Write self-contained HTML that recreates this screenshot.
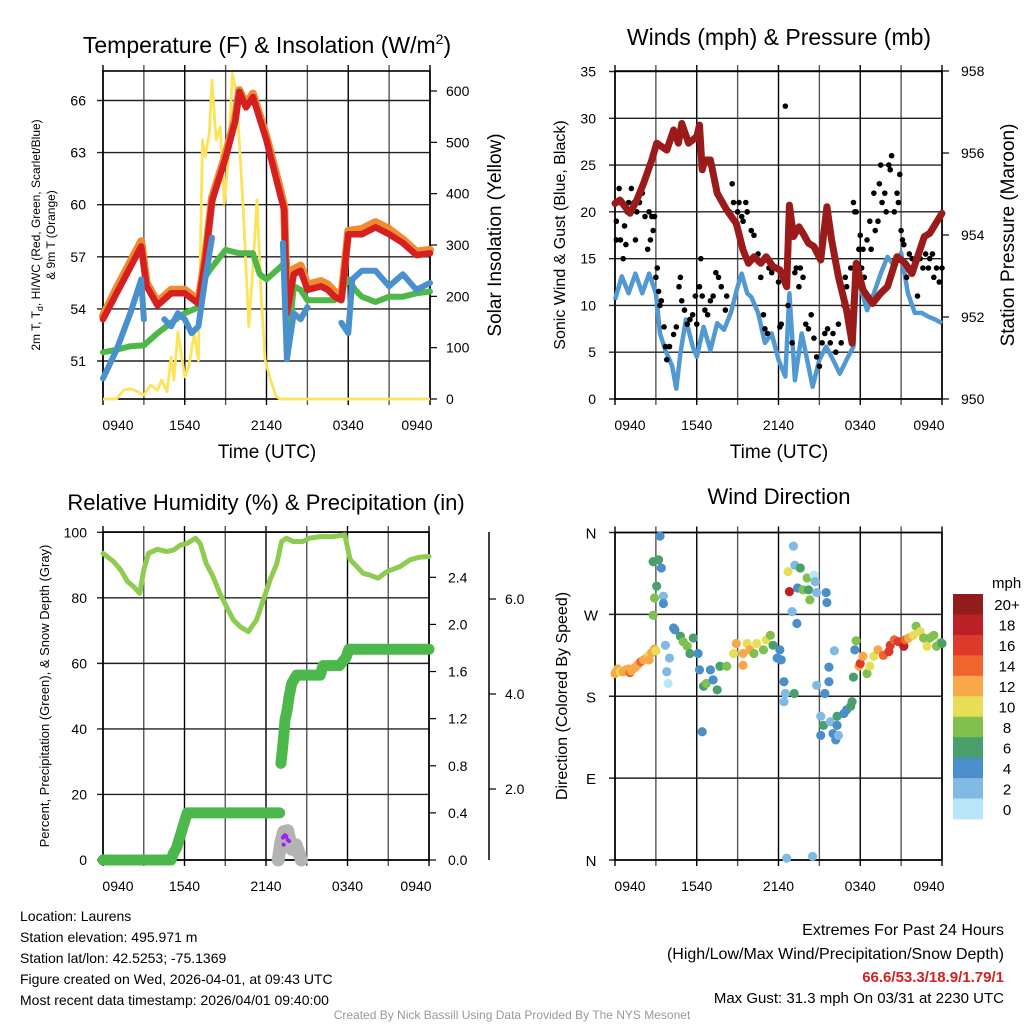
<!DOCTYPE html>
<html><head><meta charset="utf-8">
<style>
body{margin:0;background:#fff;}
svg{display:block;font-family:"Liberation Sans",sans-serif;}
</style></head>
<body>
<svg id="chart" width="1024" height="1024" viewBox="0 0 1024 1024"></svg>
<script>
// ---------- DATA ----------
const tTemp=[0,1,2,2.8,3.2,4,5,6,7,7.5,8,9,9.7,10,10.5,11,12,13,13.3,13.5,14,14.5,15,16,16.5,17,17.5,18,19,20,21,22,23,24];
const tempRed=[53.4,54.9,56.4,57.6,55.3,54.2,54.9,54.9,54.3,56.8,60.2,62.7,64.8,66.5,65.6,66.2,63.7,60.6,59.7,53.75,56.0,56.2,55.1,55.3,55.1,54.7,54.5,58.3,58.3,58.7,58.3,57.8,57.1,57.2];
const temp9m=[53.6,55.2,56.7,57.9,55.5,54.4,55.1,55.1,54.5,57.0,60.4,62.9,65.0,66.6,65.8,66.4,63.9,60.9,59.9,53.9,56.3,56.5,55.4,55.6,55.4,55.0,54.7,58.5,58.6,59.0,58.6,58.0,57.3,57.4];
const tDew=[0,1,2,3,4,5,6,7,7.5,8,9,10,11,11.5,12,13,13.5,13.7,14,14.5,15,16,17,18,18.5,19,20,21,22,23,24];
const dewGreen=[51.5,51.65,51.85,51.9,52.6,53.2,53.75,54.1,55.85,56.4,57.4,57.2,57.2,56.0,55.7,56.4,56.8,53.0,55.3,55.1,54.5,54.5,54.5,55.7,55.1,54.7,54.4,54.7,54.7,54.9,55.0];
const tChill=[0,1,2,2.8,3,3.5,4.5,5,5.5,6,6.5,7,7.5,8,8.1,13.2,13.5,14,14.5,15,15.3,17.5,18,18.3,19,20,21,22,23,24];
const chillBlue=[50.0,51.65,53.75,55.7,53.4,null,53.4,53.0,53.75,53.4,52.6,53.0,55.7,58.1,null,57.8,51.1,53.75,53.4,54.1,null,53.2,52.6,55.7,56.2,56.2,55.3,56.0,55.1,55.5];
const tSolar=[0,1,1.5,2,2.5,3,3.5,4,4.3,4.7,5,5.2,5.5,6,6.3,6.7,7,7.3,7.5,7.8,8,8.3,8.6,8.9,9.2,9.5,9.8,10.3,10.7,11,11.3,11.6,11.9,12.3,12.7,13,24];
const solar=[0,0,17,20,15,8,27,17,37,14,82,37,131,43,63,128,75,505,472,518,621,505,530,381,466,634,595,368,141,258,388,206,76,37,5,0,0];
const tWind=[0,0.5,1,1.5,2,2.5,3,3.3,3.7,4.2,4.5,4.8,5.2,5.7,6,6.5,7,7.5,8,8.5,9,9.3,9.7,10,10.5,11,11.5,12,12.5,12.8,13.2,13.7,14,14.5,15,15.5,16,16.5,17,17.5,17.8,18,18.5,19,19.5,20,20.5,21,21.5,22,22.5,23,23.5,24];
const windBlue=[10.6,13.1,11.3,13.4,11.3,13.4,11.3,7.0,5.2,3.5,1.1,4.9,8.5,5.6,4.5,7.7,5.2,8.1,7.4,9.2,12.0,13.4,11.3,10.9,9.2,6.0,7.0,4.2,2.4,11.3,2.0,7.0,4.9,1.3,4.2,5.6,4.2,2.7,4.2,5.6,14.2,12.0,9.5,11.3,13.4,15.2,14.2,15.6,11.3,9.2,9.2,8.8,8.5,8.1];
const tPres=[0,0.37,1.1,1.6,2.1,2.7,3.06,3.8,4.3,4.65,4.9,5.4,6.0,6.2,6.4,6.6,7.0,7.5,8.2,8.9,9.4,9.8,10.2,10.7,11.1,11.6,12.1,12.6,12.8,13.1,13.5,13.8,14.2,14.6,15.1,15.55,15.9,16.4,17.0,17.4,17.7,18.2,18.9,19.5,20.0,20.7,21.3,21.8,22.7,23.1,24];
const pressure=[954.77,954.85,954.53,954.85,955.26,955.83,956.24,956.07,956.56,956.24,956.72,956.24,956.4,956.68,955.59,955.83,955.83,955.02,954.61,954.28,953.63,953.31,953.47,953.31,953.47,953.23,953.15,952.74,954.73,953.96,954.20,954.04,953.80,953.72,953.39,954.69,953.88,952.98,952.17,951.36,953.31,952.66,952.33,952.58,952.74,953.47,953.31,953.06,953.96,954.04,954.53];
const tGust=[0.1,0.1,0.2,0.3,0.4,0.6,0.7,0.8,0.9,1.0,1.2,1.4,1.5,1.6,1.8,2.0,2.1,2.2,2.4,2.5,2.6,2.7,2.8,2.9,3.0,3.1,3.2,3.3,3.4,3.6,3.7,3.8,4.0,4.3,4.5,4.7,4.8,4.9,5.1,5.3,5.5,5.7,5.9,6.0,6.2,6.3,6.4,6.6,6.8,7.0,7.2,7.4,7.6,7.8,8.1,8.2,8.4,8.6,8.7,8.8,9.0,9.1,9.3,9.4,9.6,9.7,10.0,10.2,10.4,10.5,10.7,10.9,11.0,11.2,11.3,11.5,11.7,11.9,12.0,12.1,12.2,12.5,12.7,13.0,13.2,13.3,13.5,13.6,13.8,14.0,14.2,14.4,14.6,14.8,15.0,15.2,15.4,15.6,15.8,16.0,16.2,16.4,16.6,16.8,16.9,17.0,17.3,17.5,17.6,17.7,17.9,18.0,18.1,18.2,18.3,18.5,18.7,18.8,19.0,19.1,19.3,19.4,19.5,19.6,19.8,19.9,20.1,20.2,20.3,20.5,20.7,20.8,20.9,21.0,21.1,21.2,21.4,21.6,21.8,22.0,22.2,22.4,22.6,22.8,23.0,23.1,23.3,23.4,23.6,23.8,24.0];
const gust=[17,19,21,22.5,17,15,18.5,16.5,20,21,22.5,21,17,20,21,22,23,19.5,16,20,17,19.5,18,19.5,13,14,11.5,10,10.5,7.7,5.6,4.2,5.6,6.9,7.7,12,13,10.5,9.5,8,8.5,9,11,8,12,15,11,9.5,9,10.5,11,13.5,13,12,9.5,11,20,23,21,19,20,21,19.5,19,21,20,18,17.5,15,15.5,13,9,7.5,7,14,13.5,14,14,12.5,7.7,8,31.3,10,6,13.5,14,12,14,13,8,7.5,9,6.5,4.5,3.5,6,7,7.5,6,7,5,8,6,10,13,12,14,21,20,20,16,17.5,14,16,13,17,19,16,22,18,19,23,25,21,22,20,25,24.5,26,20,22,21,24,18,17,16.5,13,15.5,15,14.5,11,15,14,15.5,14,15,15.5,13,14,12.5,14];
const tRH=[0,0.8,1.3,1.8,2.25,2.7,3.0,3.35,4.0,4.7,5.2,5.7,6.2,6.8,7.15,7.6,8.1,8.6,9.1,9.6,10.1,10.7,11.3,11.8,12.3,12.8,13.15,13.5,14.0,14.7,15.2,16.0,16.9,17.8,18.2,18.7,19.15,19.6,20.25,20.9,21.85,22.6,23.3,24];
const rh=[93.6,91,88.5,85,83.4,81.4,88.5,93.6,94.8,94.1,94.6,96.1,96.6,98.2,96.6,90.5,86.5,81.4,77.3,73.2,71.2,69.7,73.2,79.3,85.5,90.5,97.2,98.2,97.2,97.2,98.2,98.7,98.7,99.2,91.6,89.5,87.5,87,86,88,89.5,91.6,92.4,92.6];
const tPrecip=[0,5.0,5.2,5.4,5.8,6.2,13.0,13.05,13.1,13.2,13.3,13.4,13.55,13.7,13.9,14.25,16.0,16.2,17.4,17.9,18.1,24];
const precip=[0,0,0.06,0.1,0.25,0.4,0.4,null,0.82,0.93,1.05,1.19,1.27,1.39,1.5,1.57,1.57,1.65,1.65,1.72,1.79,1.79];
const tSnow=[12.9,13.1,13.3,13.6,13.9,14.2,14.6];
const snowDepth=[0,0.15,0.24,0.25,0.09,0.13,0];
const tPurple=[13.25,13.3,13.4,13.5,13.6,13.7,13.3];
const purpleVal=[0.19,0.2,0.21,0.2,0.17,0.16,0.13];
const tDir=[0,0.1,0.2,0.4,0.6,0.8,1.0,1.1,1.2,1.3,
1.5,1.7,1.9,2.1,2.3,2.5,2.5,2.7,2.9,3.0,
2.8,2.9,3.06,2.8,3.2,3.4,3.3,3.55,3.55,3.7,
3.8,3.9,4.0,4.3,4.4,4.8,5.0,5.3,5.5,5.75,
6.1,6.2,6.5,6.7,7.0,7.2,7.5,6.4,7.7,8.2,
8.7,8.9,9.4,9.4,9.7,9.9,10.2,10.4,10.9,11.1,
11.4,11.6,11.9,12.1,12.2,12.4,12.5,12.4,13.15,12.6,
12.7,12.8,13.1,13.2,13.6,13.4,13.0,13.35,13.8,14.1,
14.2,14.3,14.6,14.7,14.8,15.5,15.55,14.5,14.8,15.1,
15.1,15.3,15.4,15.7,15.7,15.8,16.0,16.1,16.2,16.3,
16.4,16.3,16.8,17.0,17.3,17.4,17.5,17.6,17.7,17.9,
18.0,18.2,18.5,18.7,19.0,19.3,19.7,20.1,20.2,20.5,
20.8,21.2,21.3,21.55,21.9,22.1,22.4,22.65,22.9,23.1,
23.4,23.6,23.9,24];
const dirDeg=[205,207,210,207,207,209,210,206,208,210,
212,215,218,220,222,225,220,228,232,230,
269,288,301,328,330,321,356,290,282,236,
207,194,222,255,253,246,240,235,227,244,
227,209,191,194,209,198,187,141,213,213,
227,238,227,214,238,231,227,238,231,242,
247,236,222,231,220,196,183,174,183,2,
317,295,345,324,321,299,273,260,297,310,
297,286,313,306,294,294,283,4,192,158,
137,148,183,196,212,152,139,230,132,148,
137,158,161,165,169,174,201,231,241,213,
216,224,205,213,224,231,225,229,236,242,
240,235,242,244,247,257,251,244,235,244,
247,235,239,238];
const dirSpeed=[12,12,12,10,12,12,12,14,12,12,
12,12,14,12,12,10,12,12,12,10,
8,8,6,6,6,4,4,2,4,2,
2,0,2,4,4,6,8,8,6,6,
4,4,6,8,4,4,6,4,6,8,
10,12,12,12,10,12,8,10,8,10,
8,6,4,4,4,4,2,2,6,2,
10,18,2,2,6,4,2,4,8,8,
6,8,0,2,2,4,4,2,2,2,
4,6,4,4,4,2,4,2,4,4,
2,6,4,4,6,6,6,4,8,12,
16,12,8,10,10,12,14,16,16,14,
16,18,14,12,10,8,10,8,10,8,
8,8,8,6];
const windBins=["20+","18","16","14","12","10","8","6","4","2","0"];
const binColors=["#921c1c","#bc1f26","#dd3a2b","#f0652f","#f8a849","#e6df56","#80c04f","#4aa06a","#4a8fc8","#80b9e4","#b8e5f8"];
const timeTicks=["0940","1540","2140","0340","0940"];

// ---------- HELPERS ----------
const svg=document.getElementById('chart');
const NS='http://www.w3.org/2000/svg';
function mk(tag,attrs,parent){const e=document.createElementNS(NS,tag);for(const k in attrs)e.setAttribute(k,attrs[k]);(parent||svg).appendChild(e);return e;}
function txt(s,x,y,size,anchor,parent,extra){const e=mk('text',Object.assign({x:x,y:y,'font-size':size,'text-anchor':anchor||'middle',fill:'#000'},extra||{}),parent);e.textContent=s;return e;}
function lin(a0,a1,b0,b1){return v=>b0+(v-a0)*(b1-b0)/(a1-a0);}
function pathD(ts,vs,fx,fy){let d='',pen=false;for(let i=0;i<ts.length;i++){if(vs[i]===null||vs[i]===undefined){pen=false;continue;}d+=(pen?'L':'M')+fx(ts[i]).toFixed(1)+' '+fy(vs[i]).toFixed(1);pen=true;}return d;}

function frame(g,x0,x1,y0,y1,hVals,fy){
  const fx=lin(0,24,x0,x1);
  for(let h=0;h<=24;h+=3){mk('line',{x1:fx(h),x2:fx(h),y1:y0-6,y2:y1+6,stroke:(h%6? '#555':'#000'),'stroke-width':1.4},g);}
  hVals.forEach(v=>{mk('line',{x1:x0-6,x2:x1,y1:fy(v),y2:fy(v),stroke:'#222','stroke-width':1.4},g);});
  mk('rect',{x:x0,y:y0,width:x1-x0,height:y1-y0,fill:'none',stroke:'#000','stroke-width':1.6},g);
  timeTicks.forEach((s,i)=>{let x=fx(i*6);if(i===0)x+=15;if(i===4)x-=13;const t=txt(s,x,y1+31,14,'middle',g);});
  return fx;
}

// ---------- PANEL 1 ----------
(function(){
  const g=mk('g',{});
  
  
  const x0=103,x1=430,y0=71,y1=399;
  const fy=lin(51,66,361,100.5);
  const fs=lin(0,600,399,91);
  const fx=frame(g,x0,x1,y0,y1,[51,54,57,60,63,66],fy);
  [51,54,57,60,63,66].forEach(v=>{const t=txt(String(v),86,fy(v)+5,14,'end',g);});
  [0,100,200,300,400,500,600].forEach(v=>{mk('line',{x1:x1,x2:x1+7,y1:fs(v),y2:fs(v),stroke:'#000','stroke-width':1.2},g);const t=txt(String(v),446,fs(v)+5,14,'start',g);});
  const pY=mk('path',{d:pathD(tSolar,solar,fx,fs),fill:'none',stroke:'#fde35a','stroke-width':2.8,'stroke-linejoin':'round'},g);
  
  const pG=mk('path',{d:pathD(tDew,dewGreen,fx,fy),fill:'none',stroke:'#4db848','stroke-width':6,'stroke-linejoin':'round','stroke-linecap':'round'},g);
  
  const pO=mk('path',{d:pathD(tTemp,temp9m,fx,fy),fill:'none',stroke:'#f28a30','stroke-width':8,'stroke-linejoin':'round','stroke-linecap':'round'},g);
  
  const pR=mk('path',{d:pathD(tTemp,tempRed,fx,fy),fill:'none',stroke:'#d42020','stroke-width':6.5,'stroke-linejoin':'round','stroke-linecap':'round'},g);
  
  const pB=mk('path',{d:pathD(tChill,chillBlue,fx,fy),fill:'none',stroke:'#4a90cc','stroke-width':6,'stroke-linejoin':'round','stroke-linecap':'round'},g);
  
  const t1=txt('',267,53,23,'middle',g);t1.innerHTML='Temperature (F) &amp; Insolation (W/m<tspan dy="-9" font-size="14">2</tspan><tspan dy="9">)</tspan>';
  
  const xt=txt('Time (UTC)',267,458,19,'middle',g);
  const yl=mk('g',{transform:'translate(40,235) rotate(-90)'},g);
  const a=txt('',0,0,12,'middle',yl);a.innerHTML='2m T, T<tspan dy="3" font-size="9">d</tspan><tspan dy="-3">, HI/WC (Red, Green, Scarlet/Blue)</tspan>';
  
  const b=txt('& 9m T (Orange)',0,15,12,'middle',yl);
  const yr=txt('Solar Insolation (Yellow)',0,0,19,'middle',g,{transform:'translate(501,235) rotate(-90)'});
  
})();

// ---------- PANEL 2 ----------
(function(){
  const g=mk('g',{});
  
  
  const x0=615,x1=942,y0=71,y1=399;
  const fy=lin(0,35,399,71.5);
  const fp=lin(950,958,399,71);
  const fx=frame(g,x0,x1,y0,y1,[0,5,10,15,20,25,30,35],fy);
  [0,5,10,15,20,25,30,35].forEach(v=>{const t=txt(String(v),596,fy(v)+5,14,'end',g);});
  [950,952,954,956,958].forEach(v=>{mk('line',{x1:x1,x2:x1+7,y1:fp(v),y2:fp(v),stroke:'#000','stroke-width':1.2},g);const t=txt(String(v),961,fp(v)+5,14,'start',g);});
  const pB=mk('path',{d:pathD(tWind,windBlue,fx,fy),fill:'none',stroke:'#5199d3','stroke-width':4.5,'stroke-linejoin':'round'},g);
  
  for(let i=0;i<tGust.length;i++){
    const c=mk('circle',{cx:fx(tGust[i]),cy:fy(gust[i]),r:2.8,fill:'#000'},g);
    
    
  }
  const pM=mk('path',{d:pathD(tPres,pressure,fx,fp),fill:'none',stroke:'#9b1b1b','stroke-width':7,'stroke-linejoin':'round','stroke-linecap':'round'},g);
  
  const t1=txt('Winds (mph) & Pressure (mb)',779,45,23,'middle',g);
  const xt=txt('Time (UTC)',779,458,19,'middle',g);
  const yl=txt('Sonic Wind & Gust (Blue, Black)',0,0,16,'middle',g,{transform:'translate(565,235) rotate(-90)'});
  
  const yr=txt('Station Pressure (Maroon)',0,0,19,'middle',g,{transform:'translate(1014,235) rotate(-90)'});
  
})();

// ---------- PANEL 3 ----------
(function(){
  const g=mk('g',{});
  
  
  const x0=103,x1=429,y0=532,y1=860;
  const fy=lin(0,100,860,532.3);
  const fi=lin(0,2.4,860,577.3);
  const fsn=lin(2,6,789,599);
  const fx=frame(g,x0,x1,y0,y1,[0,20,40,60,80,100],fy);
  [0,20,40,60,80,100].forEach(v=>{const t=txt(String(v),87,fy(v)+5,14,'end',g);});
  [0,0.4,0.8,1.2,1.6,2.0,2.4].forEach(v=>{mk('line',{x1:x1,x2:x1+7,y1:fi(v),y2:fi(v),stroke:'#000','stroke-width':1.2},g);const t=txt(v.toFixed(1),448,fi(v)+5,14,'start',g);});
  mk('line',{x1:489,x2:489,y1:532,y2:860,stroke:'#000','stroke-width':1.5},g);
  [2,4,6].forEach(v=>{mk('line',{x1:489,x2:496,y1:fsn(v),y2:fsn(v),stroke:'#000','stroke-width':1.2},g);const t=txt(v.toFixed(1),505,fsn(v)+5,14,'start',g);});
  const pS=mk('path',{d:pathD(tSnow,snowDepth,fx,fi),fill:'none',stroke:'#b3b3b3','stroke-width':13,'stroke-linejoin':'round','stroke-linecap':'round'},g);
  
  for(let i=0;i<tPurple.length;i++){const c=mk('circle',{cx:fx(tPurple[i]),cy:fi(purpleVal[i]),r:2,fill:'#a020f0'},g);}
  const pR=mk('path',{d:pathD(tRH,rh,fx,fy),fill:'none',stroke:'#8dcc50','stroke-width':5,'stroke-linejoin':'round','stroke-linecap':'round'},g);
  
  const pP=mk('path',{d:pathD(tPrecip,precip,fx,fi),fill:'none',stroke:'#4cb84c','stroke-width':11,'stroke-linejoin':'round','stroke-linecap':'round'},g);
  
  const t1=txt('Relative Humidity (%) & Precipitation (in)',266,510,22,'middle',g);
  const yl=txt('Percent, Precipitation (Green), & Snow Depth (Gray)',0,0,13,'middle',g,{transform:'translate(49,696) rotate(-90)'});
  
})();

// ---------- PANEL 4 ----------
(function(){
  const g=mk('g',{});
  
  
  const x0=615,x1=942,y0=532.5,y1=860;
  const fy=lin(0,360,860,532.5);
  const fx=frame(g,x0,x1,y0,y1,[0,90,180,270,360],fy);
  [[0,'N'],[90,'E'],[180,'S'],[270,'W'],[360,'N']].forEach(p=>{const t=txt(p[1],591,fy(p[0])+6,15,'middle',g);});
  for(let i=0;i<tDir.length;i++){
    const bin=Math.min(10,Math.floor(dirSpeed[i]/2));
    const c=mk('circle',{cx:fx(tDir[i]),cy:fy(dirDeg[i]),r:4.6,fill:binColors[10-bin]},g);
    
    
  }
  const t1=txt('Wind Direction',779,504,22,'middle',g);
  const yl=txt('Direction (Colored By Speed)',0,0,16,'middle',g,{transform:'translate(567,696) rotate(-90)'});
  
  const lg=mk('g',{},g);
  
  
  const lt=txt('mph',992,588,15,'start',lg);
  const bh=(819-594)/11;
  for(let i=0;i<11;i++){
    const r=mk('rect',{x:953,y:594+i*bh,width:30,height:bh+0.5,fill:binColors[i]},lg);
    
    
    const t=txt(windBins[i],1007,594+i*bh+bh/2+6,15,'middle',lg);
    
    
  }
})();

// ---------- FOOTER ----------
(function(){
  const g=mk('g',{});
  
  
  const left=['Location: Laurens','Station elevation: 495.971 m','Station lat/lon: 42.5253; -75.1369','Figure created on Wed, 2026-04-01, at 09:43 UTC','Most recent data timestamp: 2026/04/01 09:40:00'];
  left.forEach((s,i)=>{const t=txt(s,20,921+i*21,14,'start',g);});
  const a=txt('Extremes For Past 24 Hours',1004,935,16,'end',g);
  const b=txt('(High/Low/Max Wind/Precipitation/Snow Depth)',1004,959,16,'end',g);
  const c=txt('66.6/53.3/18.9/1.79/1',1004,982,15,'end',g,{fill:'#d42020','font-weight':'bold'});
  const d=txt('Max Gust: 31.3 mph On 03/31 at 2230 UTC',1004,1003,15,'end',g);
  const e=txt('Created By Nick Bassill Using Data Provided By The NYS Mesonet',512,1019,12,'middle',g,{fill:'#999'});
})();
</script>
</body></html>
